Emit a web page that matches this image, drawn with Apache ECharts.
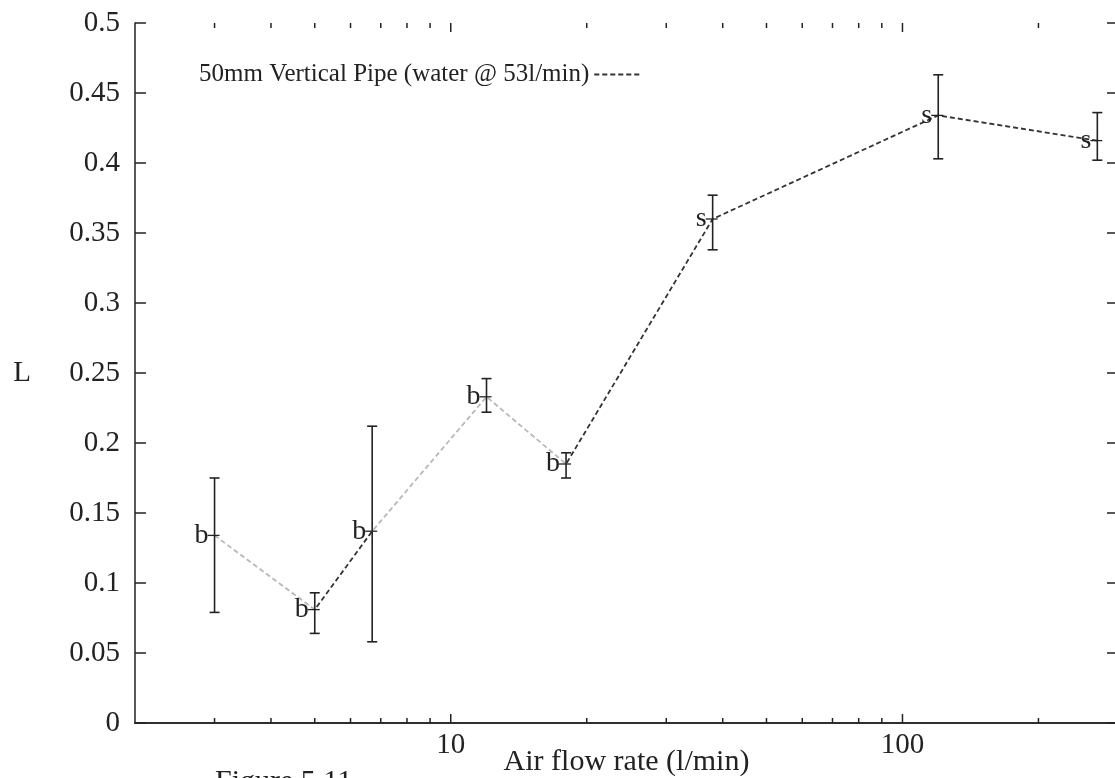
<!DOCTYPE html>
<html>
<head>
<meta charset="utf-8">
<script src="https://cdn.jsdelivr.net/npm/echarts@6/dist/echarts.min.js"></script>
<style>
html,body{margin:0;padding:0;background:#fff;}
#chart{width:1115px;height:778px;}
</style>
</head>
<body>
<div id="chart"></div>
<script>
// ---- data ----
const airFlow  = [3, 5, 6.7, 12, 18, 38, 120, 270];          // l/min
const lValue   = [0.134, 0.081, 0.137, 0.233, 0.185, 0.360, 0.434, 0.416];
const errLow   = [0.079, 0.064, 0.058, 0.222, 0.175, 0.338, 0.403, 0.402];
const errHigh  = [0.175, 0.093, 0.212, 0.246, 0.193, 0.377, 0.463, 0.436];
const regime   = ['b', 'b', 'b', 'b', 'b', 's', 's', 's'];
const minorTickValues = [3, 4, 5, 6, 7, 8, 9, 20, 30, 40, 50, 60, 70, 80, 90, 200];
const majorTickLabels = [10, 100];
const seriesName = '50mm Vertical Pipe (water @ 53l/min)';
const captionText = 'Figure 5.11';

const FONT = '"Liberation Serif", "DejaVu Serif", serif';
const INK = '#222';

const chart = echarts.init(document.getElementById('chart'));

const xBase = {
  type: 'log', logBase: 10, min: 2, max: 300,
  axisLine: { show: true, lineStyle: { color: INK, width: 1.5 } },
  axisTick: { show: false },
  splitLine: { show: false }
};
const yBase = {
  type: 'value', min: 0, max: 0.5, interval: 0.05,
  axisLine: { show: true, lineStyle: { color: INK, width: 1.5 } },
  axisTick: { show: true, inside: true, length: 11, lineStyle: { color: INK, width: 1.5 } },
  splitLine: { show: false }
};

// tick marks on the log axis: [value, length]
const xTickMarks = majorTickLabels.map(v => [v, 9]).concat(minorTickValues.map(v => [v, 5]));

const option = {
  backgroundColor: '#fff',
  animation: false,
  grid: { left: 135, top: 23, width: 983, height: 700, containLabel: false, outerBoundsMode: 'none' },
  legend: {
    show: true,
    left: 194, top: 57,
    align: 'right',
    itemWidth: 48, itemHeight: 14,
    data: [seriesName],
    textStyle: { fontFamily: FONT, fontSize: 25, color: INK },
    lineStyle: { color: '#333', type: [5, 3], width: 1.8 },
    itemStyle: { color: 'rgba(0,0,0,0)', borderWidth: 0, opacity: 0 }
  },
  graphic: [
    { type: 'text', left: 215, top: 767, silent: true,
      style: { text: captionText, font: '30px ' + FONT, fill: INK } }
  ],
  xAxis: [
    Object.assign({}, xBase, {
      position: 'bottom',
      name: 'Air flow rate (l/min)', nameLocation: 'middle', nameGap: 24, nameMoveOverlap: false,
      nameTextStyle: { fontFamily: FONT, fontSize: 30, color: INK },
      axisLabel: {
        show: true, margin: 8, showMinLabel: false, showMaxLabel: false,
        fontFamily: FONT, fontSize: 29, color: INK,
        formatter: function (v) { return majorTickLabels.indexOf(Math.round(v)) >= 0 ? String(Math.round(v)) : ''; }
      }
    }),
    Object.assign({}, xBase, { position: 'top', axisLabel: { show: false } })
  ],
  yAxis: [
    Object.assign({}, yBase, {
      position: 'left',
      name: 'L', nameLocation: 'middle', nameRotate: 0, nameGap: 104,
      nameTextStyle: { fontFamily: FONT, fontSize: 29, color: INK },
      axisLabel: { show: true, margin: 15, fontFamily: FONT, fontSize: 29, color: INK }
    }),
    Object.assign({}, yBase, { position: 'right', axisLabel: { show: false } })
  ],
  visualMap: {
    show: false, type: 'piecewise', seriesIndex: 0, dimension: 0,
    pieces: [
      { min: 2, max: 5, color: '#b8b8b8' },
      { min: 5, max: 6.7, color: '#333' },
      { min: 6.7, max: 18, color: '#b8b8b8' },
      { min: 18, max: 300, color: '#333' }
    ]
  },
  series: [
    {
      name: seriesName,
      type: 'line',
      xAxisIndex: 0, yAxisIndex: 0,
      symbol: 'none',
      color: '#333',
      lineStyle: { width: 1.8, type: [5, 3] },
      data: airFlow.map((x, i) => [x, lValue[i]]),
      z: 2
    },
    {
      name: 'errorbars',
      type: 'custom',
      xAxisIndex: 0, yAxisIndex: 0,
      data: airFlow.map((x, i) => [x, errLow[i], errHigh[i], lValue[i]]),
      encode: { x: 0, y: [1, 2, 3] },
      z: 3,
      renderItem: function (params, api) {
        const x = api.value(0);
        const pLo = api.coord([x, api.value(1)]);
        const pHi = api.coord([x, api.value(2)]);
        const p = api.coord([x, api.value(3)]);
        const cap = 5;
        const st = { stroke: INK, lineWidth: 1.6 };
        return {
          type: 'group',
          children: [
            { type: 'line', shape: { x1: pLo[0], y1: pLo[1], x2: pHi[0], y2: pHi[1] }, style: st },
            { type: 'line', shape: { x1: pLo[0] - cap, y1: pLo[1], x2: pLo[0] + cap, y2: pLo[1] }, style: st },
            { type: 'line', shape: { x1: pHi[0] - cap, y1: pHi[1], x2: pHi[0] + cap, y2: pHi[1] }, style: st },
            { type: 'line', shape: { x1: p[0] - 7, y1: p[1], x2: p[0] + 5, y2: p[1] }, style: { stroke: INK, lineWidth: 1.3 } },
            { type: 'text', style: { text: regime[params.dataIndex], x: p[0] - 6, y: p[1], align: 'right', verticalAlign: 'middle', font: '28px ' + FONT, fill: INK } }
          ]
        };
      }
    },
    {
      name: 'xTicks',
      type: 'custom',
      xAxisIndex: 0, yAxisIndex: 0,
      silent: true,
      data: xTickMarks,
      encode: { x: 0 },
      z: 4,
      renderItem: function (params, api) {
        const v = api.value(0);
        const len = api.value(1);
        const b = api.coord([v, 0]);
        const t = api.coord([v, 0.5]);
        const st = { stroke: INK, lineWidth: 1.5 };
        return {
          type: 'group',
          children: [
            { type: 'line', shape: { x1: b[0], y1: b[1], x2: b[0], y2: b[1] - len }, style: st },
            { type: 'line', shape: { x1: t[0], y1: t[1], x2: t[0], y2: t[1] + len }, style: st }
          ]
        };
      }
    }
  ]
};

chart.setOption(option);
</script>
</body>
</html>
